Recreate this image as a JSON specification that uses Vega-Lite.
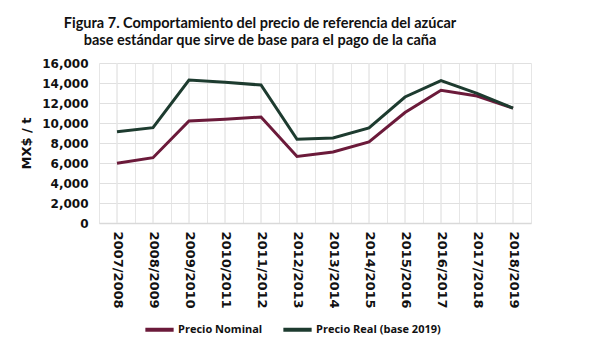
{
  "$schema": "https://vega.github.io/schema/vega-lite/v6.json",
  "width": 432,
  "height": 160,
  "autosize": {"type": "none"},
  "padding": {"left": 99, "top": 63, "right": 59, "bottom": 128},
  "background": "white",
  "config": {
    "font": "Open Sans",
    "view": {"stroke": null}
  },
  "title": {
    "text": ["Figura 7. Comportamiento del precio de referencia del azúcar", "base estándar que sirve de base para el pago de la caña"],
    "font": "Lato",
    "fontSize": 14.5,
    "fontWeight": "bold",
    "color": "#111111",
    "anchor": "middle",
    "dx": -55,
    "offset": 9,
    "lineHeight": 17
  },
  "data": {
    "values": [
      {"temporada": "2007/2008", "serie": "Precio Nominal", "valor": 5970},
      {"temporada": "2008/2009", "serie": "Precio Nominal", "valor": 6530},
      {"temporada": "2009/2010", "serie": "Precio Nominal", "valor": 10200},
      {"temporada": "2010/2011", "serie": "Precio Nominal", "valor": 10370},
      {"temporada": "2011/2012", "serie": "Precio Nominal", "valor": 10600},
      {"temporada": "2012/2013", "serie": "Precio Nominal", "valor": 6650},
      {"temporada": "2013/2014", "serie": "Precio Nominal", "valor": 7100},
      {"temporada": "2014/2015", "serie": "Precio Nominal", "valor": 8100},
      {"temporada": "2015/2016", "serie": "Precio Nominal", "valor": 11050},
      {"temporada": "2016/2017", "serie": "Precio Nominal", "valor": 13270},
      {"temporada": "2017/2018", "serie": "Precio Nominal", "valor": 12700},
      {"temporada": "2018/2019", "serie": "Precio Nominal", "valor": 11480},
      {"temporada": "2007/2008", "serie": "Precio Real (base 2019)", "valor": 9130},
      {"temporada": "2008/2009", "serie": "Precio Real (base 2019)", "valor": 9530},
      {"temporada": "2009/2010", "serie": "Precio Real (base 2019)", "valor": 14300},
      {"temporada": "2010/2011", "serie": "Precio Real (base 2019)", "valor": 14070},
      {"temporada": "2011/2012", "serie": "Precio Real (base 2019)", "valor": 13800},
      {"temporada": "2012/2013", "serie": "Precio Real (base 2019)", "valor": 8370},
      {"temporada": "2013/2014", "serie": "Precio Real (base 2019)", "valor": 8500},
      {"temporada": "2014/2015", "serie": "Precio Real (base 2019)", "valor": 9500},
      {"temporada": "2015/2016", "serie": "Precio Real (base 2019)", "valor": 12600},
      {"temporada": "2016/2017", "serie": "Precio Real (base 2019)", "valor": 14230},
      {"temporada": "2017/2018", "serie": "Precio Real (base 2019)", "valor": 12970},
      {"temporada": "2018/2019", "serie": "Precio Real (base 2019)", "valor": 11480}
    ]
  },
  "layer": [
    {
      "mark": {"type": "rule", "color": "#e6e6e6", "strokeWidth": 1},
      "encoding": {
        "x": {"field": "temporada", "type": "ordinal"}
      }
    },
    {
      "mark": {"type": "line", "strokeWidth": 3, "strokeCap": "butt", "strokeJoin": "miter"},
      "encoding": {
        "x": {
          "field": "temporada",
          "type": "ordinal",
          "scale": {"paddingInner": 0, "paddingOuter": 0},
          "axis": {
            "title": null,
            "labelAngle": 90,
            "labelAlign": "left",
            "labelBaseline": "middle",
            "labelFont": "DejaVu Sans",
            "labelFontSize": 13,
            "labelFontWeight": "bold",
            "labelColor": "#111111",
            "labelPadding": 8,
            "ticks": false,
            "tickBand": "extent",
            "grid": true,
            "gridColor": "#e6e6e6",
            "domainColor": "#d9d9d9",
            "domainWidth": 1.5
          }
        },
        "y": {
          "field": "valor",
          "type": "quantitative",
          "scale": {"domain": [0, 16000]},
          "axis": {
            "title": "MX$ / t",
            "titleFont": "DejaVu Sans",
            "titleFontSize": 13,
            "titleFontWeight": "bold",
            "titleColor": "#111111",
            "titlePadding": 8,
            "values": [0, 2000, 4000, 6000, 8000, 10000, 12000, 14000, 16000],
            "format": ",d",
            "labelFont": "DejaVu Sans",
            "labelFontSize": 12,
            "labelFontWeight": "bold",
            "labelColor": "#111111",
            "labelPadding": 11,
            "ticks": false,
            "domain": false,
            "grid": true,
            "gridColor": "#e0e0e0"
          }
        },
        "color": {
          "field": "serie",
          "type": "nominal",
          "scale": {"domain": ["Precio Nominal", "Precio Real (base 2019)"], "range": ["#6b1a3a", "#1d3b2f"]},
          "legend": {
            "title": null,
            "orient": "none",
            "direction": "horizontal",
            "legendX": 44,
            "legendY": 250,
            "symbolType": "stroke",
            "symbolSize": 800,
            "symbolStrokeWidth": 4,
            "labelFont": "Open Sans",
            "labelFontSize": 11,
            "labelFontWeight": "bold",
            "labelColor": "#111111",
            "labelOffset": 2,
            "columnPadding": 12
          }
        }
      }
    }
  ]
}
